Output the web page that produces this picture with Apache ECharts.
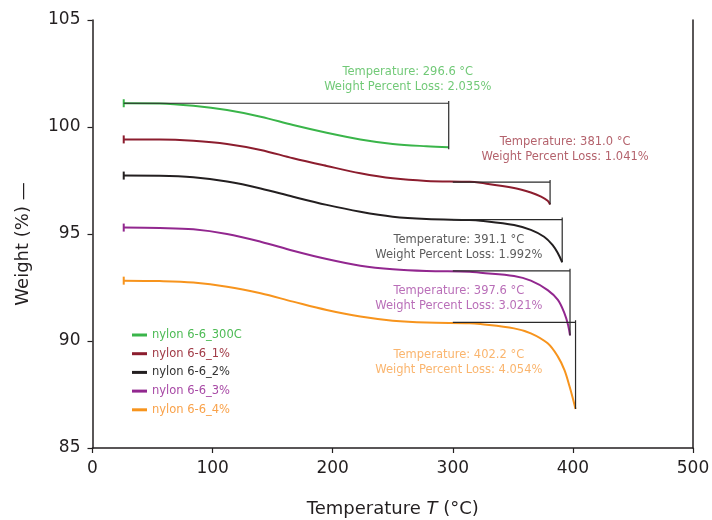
<!DOCTYPE html>
<html>
<head>
<meta charset="utf-8">
<script src="https://cdn.jsdelivr.net/npm/echarts@6/dist/echarts.min.js"></script>
<style>html,body{margin:0;padding:0;background:#fff}#c{width:712px;height:520px}</style>
</head>
<body>
<div id="c"></div>
<script>
// ---- data ----
const seriesNames = ['nylon 6-6_300C', 'nylon 6-6_1%', 'nylon 6-6_2%', 'nylon 6-6_3%', 'nylon 6-6_4%'];

const T_300C = [26, 56, 84, 112, 140, 167, 195, 223, 250, 278, 296.6];
const W_300C = [101.11, 101.10, 100.99, 100.79, 100.48, 100.09, 99.73, 99.42, 99.21, 99.10, 99.055];

const T_1 = [26, 56, 84, 112, 140, 167, 195, 223, 250, 278, 314, 323, 351, 365, 373.5, 379, 381.0];
const W_1 = [99.42, 99.42, 99.36, 99.21, 98.93, 98.54, 98.18, 97.84, 97.60, 97.48, 97.44, 97.39, 97.15, 96.94, 96.75, 96.55, 96.38];

const T_2 = [26, 56, 84, 112, 140, 167, 195, 223, 250, 278, 314, 323, 351, 365, 376, 383, 387.5, 391.1];
const W_2 = [97.73, 97.72, 97.65, 97.45, 97.13, 96.74, 96.36, 96.04, 95.81, 95.70, 95.65, 95.62, 95.42, 95.19, 94.87, 94.49, 94.10, 93.68];

const T_3 = [26, 56, 84, 112, 140, 167, 195, 223, 250, 278, 314, 323, 351, 365, 379, 387.5, 393, 396, 397.6];
const W_3 = [95.30, 95.28, 95.22, 95.00, 94.64, 94.22, 93.83, 93.52, 93.35, 93.27, 93.24, 93.19, 93.04, 92.82, 92.38, 91.92, 91.29, 90.75, 90.26];

const T_4 = [26, 56, 84, 112, 140, 167, 195, 223, 250, 278, 314, 323, 351, 365, 379, 387.5, 393, 397.3, 400.3, 402.2];
const W_4 = [92.82, 92.80, 92.73, 92.54, 92.23, 91.84, 91.45, 91.14, 90.95, 90.86, 90.83, 90.79, 90.59, 90.36, 89.89, 89.27, 88.64, 87.86, 87.24, 86.82];

// step-transition annotations: start T of bracket, end T, bracket level, end level
const stepStartT = [26, 300, 300, 300, 300];
const stepEndT = [296.6, 381.0, 391.1, 397.6, 402.2];
const stepLevel = [101.11, 97.42, 95.67, 93.28, 90.87];
const stepEnd = [99.055, 96.38, 93.68, 90.26, 86.82];
const lossPct = ['2.035', '1.041', '1.992', '3.021', '4.054'];
const tempLabel = ['296.6', '381.0', '391.1', '397.6', '402.2'];
// label anchor positions (data coordinates)
const labelT = [262.5, 393.5, 305, 305, 305];
const labelW = [102.24, 98.96, 94.36, 92.0, 89.0];

const xTicks = [0, 100, 200, 300, 400, 500];
const yTicks = [85, 90, 95, 100, 105];

// ---- styles ----
const lineColors = ['#3ab54a', '#8c1d2e', '#231f20', '#92278f', '#f7941d'];
const textColors = ['#4dbb55', '#a13b47', '#333333', '#a84aa6', '#f9a24a'];
const FONT = 'DejaVu Sans';

const Ts = [T_300C, T_1, T_2, T_3, T_4];
const Ws = [W_300C, W_1, W_2, W_3, W_4];

const series = [];
seriesNames.forEach((name, i) => {
  const data = Ts[i].map((t, k) => {
    const item = { value: [t, Ws[i][k]] };
    if (k === 0) { item.symbol = 'rect'; item.symbolSize = [2, 8]; }
    return item;
  });
  series.push({
    name: name, type: 'line', data: data, smooth: 0.35,
    symbol: 'none', showSymbol: true, showAllSymbol: true,
    lineStyle: { color: lineColors[i], width: 2 },
    itemStyle: { color: lineColors[i] },
    z: 3, silent: true, animation: false
  });
});

// brackets
stepLevel.forEach((lv, i) => {
  series.push({
    name: 'step' + i, type: 'line', silent: true, animation: false, symbol: 'none', z: 4,
    lineStyle: { color: '#2a2a2a', width: 1.2 },
    data: [[stepStartT[i], lv], [stepEndT[i], lv]]
  });
  series.push({
    name: 'stepv' + i, type: 'line', silent: true, animation: false, symbol: 'none', z: 4,
    lineStyle: { color: '#2a2a2a', width: 1.2 },
    data: [[stepEndT[i], lv + 0.1], [stepEndT[i], stepEnd[i] - (i === 0 ? 0.1 : 0)]]
  });
});

// annotation labels
series.push({
  name: 'labels', type: 'scatter', silent: true, animation: false, symbolSize: 0, z: 5,
  data: labelT.map((t, i) => ({
    value: [t, labelW[i]],
    label: {
      show: true, position: 'inside', align: 'center', verticalAlign: 'middle',
      formatter: 'Temperature: ' + tempLabel[i] + ' °C\nWeight Percent Loss: ' + lossPct[i] + '%',
      color: textColors[i], fontFamily: FONT, fontSize: 11.5, lineHeight: 15
    }
  }))
});

const chart = echarts.init(document.getElementById('c'), null, { renderer: 'canvas' });
chart.setOption({
  animation: false,
  backgroundColor: '#fff',
  grid: { left: 92.5, right: 19, top: 20, bottom: 72, outerBoundsMode: 'none', containLabel: false },
  legend: {
    orient: 'vertical', left: 127, top: 323, icon: 'rect', itemWidth: 15, itemHeight: 3,
    itemGap: 4.7, selectedMode: false,
    textStyle: { fontFamily: FONT, fontSize: 11.5, lineHeight: 14 },
    data: seriesNames.map((n, i) => ({ name: n, textStyle: { color: textColors[i] } }))
  },
  xAxis: {
    type: 'value', min: xTicks[0], max: xTicks[xTicks.length - 1], interval: 100,
    name: '{n|Temperature }{i|T}{n| (°C)}', nameLocation: 'middle', nameGap: 52,
    nameTextStyle: { rich: {
      n: { fontFamily: FONT, fontSize: 18, color: '#231f20' },
      i: { fontFamily: FONT, fontSize: 18, color: '#231f20', fontStyle: 'italic' }
    } },
    axisLine: { show: true, onZero: false, lineStyle: { color: '#231f20', width: 1.5 } },
    axisTick: { show: true, inside: false, length: 5, lineStyle: { color: '#231f20', width: 1.2 } },
    axisLabel: { fontFamily: FONT, fontSize: 17, color: '#231f20', margin: 12 },
    splitLine: { show: false }
  },
  yAxis: [{
    type: 'value', min: yTicks[0], max: yTicks[yTicks.length - 1], interval: 5,
    name: 'Weight (%) —', nameLocation: 'middle', nameGap: 60,
    nameTextStyle: { fontFamily: FONT, fontSize: 18, color: '#231f20', padding: [0, 20, 0, 0] },
    axisLine: { show: true, onZero: false, lineStyle: { color: '#231f20', width: 1.5 } },
    axisTick: { show: true, inside: false, length: 5, lineStyle: { color: '#231f20', width: 1.2 } },
    axisLabel: { fontFamily: FONT, fontSize: 17, color: '#231f20', margin: 12 },
    splitLine: { show: false }
  }, {
    type: 'value', position: 'right', min: yTicks[0], max: yTicks[yTicks.length - 1], interval: 5,
    axisLine: { show: true, onZero: false, lineStyle: { color: '#231f20', width: 1.5 } },
    axisTick: { show: false }, axisLabel: { show: false }, splitLine: { show: false }
  }],
  series: series
});
</script>
</body>
</html>
